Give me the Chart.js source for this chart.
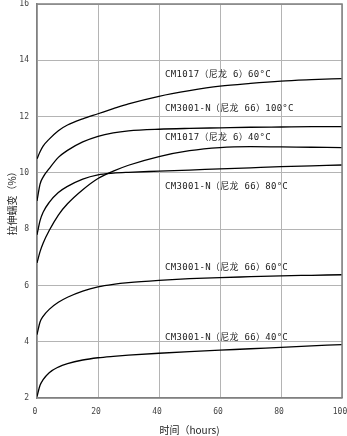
<!DOCTYPE html>
<html>
<head>
<meta charset="utf-8">
<script src="https://cdn.jsdelivr.net/npm/chart.js@4"></script>
<style>
  html, body { margin: 0; padding: 0; background: #fff; }
  #wrap { width: 347px; height: 436px; }
</style>
</head>
<body>
<div id="wrap"><canvas id="chart" width="347" height="436"></canvas></div>
<script>
// hours
const hours = [0, 1, 2, 4, 7, 10, 15, 20, 25, 30, 40, 50, 60, 70, 80, 90, 100];

// creep strain (%)
const cm1017_60 = [10.5, 10.75, 10.95, 11.2, 11.5, 11.7, 11.92, 12.1, 12.28, 12.45, 12.72, 12.92, 13.08, 13.18, 13.26, 13.31, 13.35];
const cm3001_100 = [9.0, 9.6, 9.85, 10.15, 10.55, 10.8, 11.1, 11.3, 11.42, 11.49, 11.55, 11.58, 11.6, 11.62, 11.63, 11.64, 11.64];
const cm1017_40 = [6.8, 7.2, 7.5, 7.95, 8.5, 8.9, 9.4, 9.8, 10.06, 10.27, 10.58, 10.79, 10.9, 10.93, 10.92, 10.91, 10.9];
const cm3001_80 = [7.8, 8.3, 8.6, 8.95, 9.3, 9.52, 9.78, 9.93, 9.99, 10.02, 10.06, 10.1, 10.14, 10.18, 10.22, 10.25, 10.28];
const cm3001_60 = [4.25, 4.7, 4.9, 5.15, 5.4, 5.58, 5.8, 5.95, 6.04, 6.1, 6.18, 6.24, 6.28, 6.31, 6.34, 6.36, 6.38];
const cm3001_40 = [2.05, 2.45, 2.65, 2.9, 3.1, 3.22, 3.35, 3.43, 3.48, 3.52, 3.59, 3.65, 3.7, 3.75, 3.8, 3.85, 3.9];

const seriesNames = [
  "CM1017（尼龙 6）60°C",
  "CM3001-N（尼龙 66）100°C",
  "CM1017（尼龙 6）40°C",
  "CM3001-N（尼龙 66）80°C",
  "CM3001-N（尼龙 66）60°C",
  "CM3001-N（尼龙 66）40°C",
];
const seriesValues = [cm1017_60, cm3001_100, cm1017_40, cm3001_80, cm3001_60, cm3001_40];

// where each curve name sits (data units)
const labelAt = [
  [42, 13.5],
  [42, 12.28],
  [42, 11.26],
  [42, 9.5],
  [42, 6.63],
  [42, 4.15],
];

const yTicks = [2, 4, 6, 8, 10, 12, 14, 16];
const xTicks = [0, 20, 40, 60, 80, 100];

const curveLabels = {
  id: "curveLabels",
  afterDatasetsDraw(chart) {
    const { ctx, scales } = chart;
    ctx.save();
    ctx.font = '9px "DejaVu Sans Mono", "Noto Sans CJK SC", monospace';
    ctx.letterSpacing = "0.3px";
    ctx.fillStyle = "#222";
    ctx.textAlign = "left";
    ctx.textBaseline = "middle";
    seriesNames.forEach((name, i) => {
      const x = scales.x.getPixelForValue(labelAt[i][0]);
      const y = scales.y.getPixelForValue(labelAt[i][1]);
      ctx.fillText(name, x, y);
    });
    ctx.restore();
  }
};

const ctx = document.getElementById("chart").getContext("2d");

new Chart(ctx, {
  type: "line",
  data: {
    datasets: seriesValues.map((vals, i) => ({
      label: seriesNames[i],
      data: vals.map((v, j) => ({ x: hours[j], y: v })),
      borderColor: "#000",
      borderWidth: 1.3,
      pointRadius: 0,
      fill: false,
      cubicInterpolationMode: "monotone",
    }))
  },
  options: {
    responsive: false,
    animation: false,
    layout: { padding: { top: 4, right: 5, left: 0, bottom: 0 } },
    plugins: {
      legend: { display: false },
      tooltip: { enabled: false },
    },
    scales: {
      x: {
        type: "linear",
        min: 0,
        max: 100,
        afterBuildTicks: (axis) => { axis.ticks = xTicks.map(v => ({ value: v })); },
        afterFit: (axis) => { axis.height = 38; axis.paddingLeft = 0; axis.paddingRight = 0; },
        grid: { color: "#b4b4b4", lineWidth: 1, drawTicks: false },
        border: { color: "#808080", width: 1.5 },
        ticks: {
          color: "#444",
          font: { family: "DejaVu Sans Mono", size: 8 },
          padding: 9,
          labelOffset: -2,
          maxRotation: 0,
        },
        title: {
          display: true,
          text: "时间（hours)",
          color: "#222",
          font: { family: "Noto Sans CJK SC", size: 10 },
          padding: { top: 2, bottom: 0 },
        },
      },
      y: {
        type: "linear",
        min: 2,
        max: 16,
        afterBuildTicks: (axis) => { axis.ticks = yTicks.map(v => ({ value: v })); },
        afterFit: (axis) => { axis.width = 37; axis.paddingTop = 0; axis.paddingBottom = 0; },
        grid: { color: "#b4b4b4", lineWidth: 1, drawTicks: false },
        border: { color: "#808080", width: 1.5 },
        ticks: {
          color: "#444",
          font: { family: "DejaVu Sans Mono", size: 8 },
          padding: 8,
        },
        title: {
          display: true,
          text: "拉伸蠕变（%）",
          color: "#222",
          font: { family: "Noto Sans CJK SC", size: 10 },
          padding: { top: 6, bottom: 0 },
        },
      },
    },
  },
  plugins: [curveLabels, {
    id: "frame",
    afterDraw(chart) {
      const { ctx, chartArea: a } = chart;
      ctx.save();
      ctx.strokeStyle = "#808080";
      ctx.lineWidth = 1.5;
      ctx.beginPath();
      ctx.moveTo(a.left, a.top);
      ctx.lineTo(a.right, a.top);
      ctx.lineTo(a.right, a.bottom);
      ctx.stroke();
      ctx.restore();
    }
  }],
});
</script>
</body>
</html>
